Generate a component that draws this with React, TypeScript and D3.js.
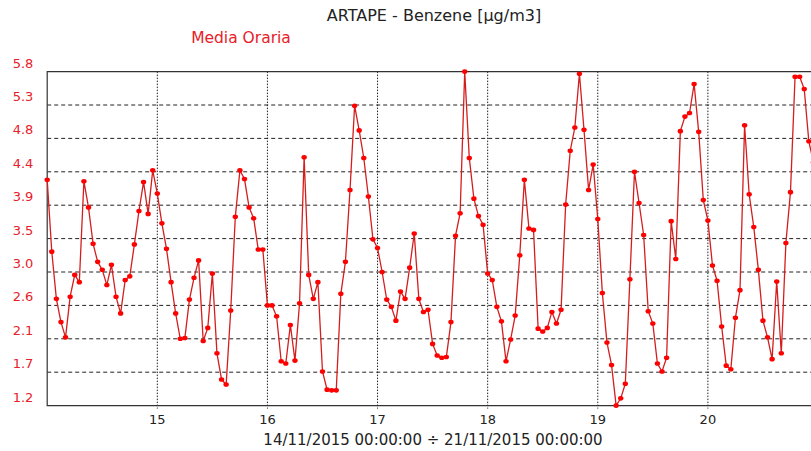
import React from "react";
import * as d3 from "d3";

const title = "ARTAPE - Benzene [µg/m3]";
const seriesName = "Media Oraria";
const caption = "14/11/2015 00:00:00 ÷ 21/11/2015 00:00:00";

const yTickLabels = ["5.8", "5.3", "4.8", "4.4", "3.9", "3.5", "3.0", "2.6", "2.1", "1.7", "1.2"];
const xTickDays = [15, 16, 17, 18, 19, 20];

const day14 = [4.31, 3.32, 2.67, 2.35, 2.14, 2.70, 3.00, 2.90, 4.29, 3.93, 3.43, 3.18, 3.07, 2.86, 3.14, 2.70, 2.47, 2.93, 2.98, 3.42, 3.88, 4.28, 3.84, 4.44];
const day15 = [4.12, 3.71, 3.36, 2.90, 2.47, 2.12, 2.13, 2.66, 2.96, 3.20, 2.09, 2.27, 3.02, 1.92, 1.56, 1.49, 2.51, 3.80, 4.44, 4.32, 3.93, 3.78, 3.35, 3.35];
const day16 = [2.58, 2.58, 2.43, 1.81, 1.78, 2.31, 1.82, 2.61, 4.62, 3.00, 2.67, 2.90, 1.67, 1.42, 1.41, 1.41, 2.74, 3.18, 4.17, 5.33, 4.99, 4.61, 4.08, 3.49];
const day17 = [3.37, 3.04, 2.66, 2.56, 2.37, 2.77, 2.67, 3.10, 3.57, 2.67, 2.49, 2.52, 2.05, 1.89, 1.86, 1.87, 2.35, 3.54, 3.85, 5.80, 4.61, 4.05, 3.81, 3.69];
const day18 = [3.02, 2.93, 2.56, 2.36, 1.81, 2.11, 2.44, 3.27, 4.31, 3.64, 3.62, 2.26, 2.22, 2.27, 2.49, 2.33, 2.52, 3.97, 4.71, 5.03, 5.77, 5.00, 4.17, 4.52];
const day19 = [3.77, 2.75, 2.07, 1.76, 1.20, 1.30, 1.50, 2.94, 4.42, 3.99, 3.55, 2.50, 2.33, 1.78, 1.67, 1.86, 3.74, 3.22, 4.98, 5.18, 5.23, 5.63, 4.97, 4.03];
const day20 = [3.75, 3.13, 2.92, 2.29, 1.75, 1.70, 2.41, 2.79, 5.06, 4.11, 3.66, 3.07, 2.37, 2.14, 1.84, 2.91, 1.92, 3.44, 4.14, 5.73, 5.73, 5.56, 4.84, 4.55];

const days = [day14, day15, day16, day17, day18, day19, day20];

const W = 811;
const H = 451;
const left = 47.2;
const right = 818;
const top = 71.6;
const bottom = 405.6;

const RED = "#e8202a";
const FONT = "'DejaVu Sans', Verdana, sans-serif";

export default function App() {
  const start = Date.UTC(2015, 10, 14);
  const end = Date.UTC(2015, 10, 21);
  const x = d3.scaleUtc().domain([new Date(start), new Date(end)]).range([left, right]);
  const yMin = 1.2;
  const yMax = 5.8;
  const y = d3.scaleLinear().domain([yMin, yMax]).range([bottom, top]);

  const data = days.flatMap((arr, d) =>
    arr.map((v, h) => ({ t: new Date(start + (d * 24 + h) * 3600000), v }))
  );
  const line = d3
    .line<{ t: Date; v: number }>()
    .x((d) => x(d.t))
    .y((d) => y(d.v));

  const step = (yMax - yMin) / (yTickLabels.length - 1);
  const yTicks = yTickLabels.map((lab, i) => ({ lab, v: yMax - i * step }));

  return (
    <svg
      width={W}
      height={H}
      style={{ position: "absolute", left: 0, top: 0, background: "#fff" }}
      fontFamily={FONT}
    >
      <rect x={0} y={0} width={W} height={H} fill="#fff" />
      <text x={434} y={21} textAnchor="middle" fontSize={16} fill="#222">
        {title}
      </text>
      <text x={241} y={43} textAnchor="middle" fontSize={15.5} fill={RED}>
        {seriesName}
      </text>

      {yTicks.map((t, i) => (
        <g key={i}>
          {i > 0 && i < yTicks.length - 1 && (
            <line
              x1={left}
              x2={W}
              y1={y(t.v)}
              y2={y(t.v)}
              stroke="#222"
              strokeWidth={1}
              strokeDasharray="4,3"
            />
          )}
          <text x={23} y={y(t.v) - 4} textAnchor="middle" fontSize={13} fill={RED}>
            {t.lab}
          </text>
        </g>
      ))}

      {xTickDays.map((d) => {
        const xx = x(new Date(Date.UTC(2015, 10, d)));
        return (
          <g key={d}>
            <line
              x1={xx}
              x2={xx}
              y1={top}
              y2={bottom + 3}
              stroke="#222"
              strokeWidth={1}
              strokeDasharray="1.5,1.5"
            />
            <text x={xx} y={424} textAnchor="middle" fontSize={13} fill="#222">
              {d}
            </text>
          </g>
        );
      })}

      <path
        d={`M${W},${top}H${left}V${bottom}H${W}`}
        fill="none"
        stroke="#333"
        strokeWidth={1.2}
      />

      <path d={line(data) || ""} fill="none" stroke="#d41e1e" strokeWidth={1.3} />
      {data.map((d, i) => (
        <ellipse key={i} cx={x(d.t)} cy={y(d.v)} rx={2.7} ry={2.3} fill="#ff0000" />
      ))}

      <text x={433} y={445} textAnchor="middle" fontSize={15} fill="#222">
        {caption}
      </text>
    </svg>
  );
}
